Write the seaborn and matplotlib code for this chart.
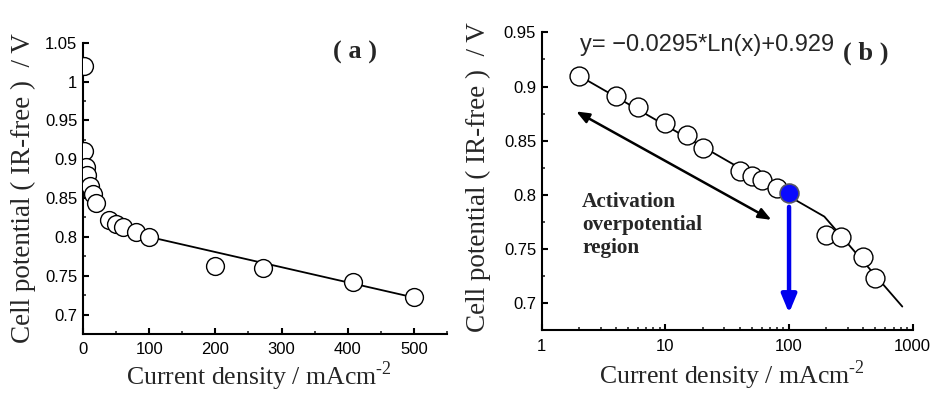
import matplotlib
matplotlib.use("Agg")
import matplotlib.pyplot as plt
import seaborn as sns
import pandas as pd
from matplotlib.ticker import MultipleLocator, FuncFormatter, LogLocator, NullFormatter, FixedLocator

# ---------------- data ----------------
current_a = [1, 2, 4, 6, 10, 15, 20, 40, 50, 60, 80, 100, 200, 272, 408, 500]
potential_a = [1.020, 0.910, 0.890, 0.880, 0.865, 0.855, 0.843, 0.822, 0.817,
               0.813, 0.806, 0.800, 0.762, 0.760, 0.742, 0.722]

current_b = [2, 4, 6, 10, 15, 20, 40, 50, 60, 80, 200, 265, 400, 500]
potential_b = [0.910, 0.891, 0.881, 0.866, 0.855, 0.843, 0.822, 0.817,
               0.814, 0.806, 0.763, 0.761, 0.743, 0.723]
highlight_x = [100]
highlight_y = [0.802]

fit_a_x = [100, 500]
fit_a_y = [0.800, 0.722]
fit_b_x = [2, 193, 824]
fit_b_y = [0.910, 0.780, 0.697]

xticks_a = [0, 100, 200, 300, 400, 500]
yticks_a = [0.7, 0.75, 0.8, 0.85, 0.9, 0.95, 1.0, 1.05]
xticks_b = [1, 10, 100, 1000]
yticks_b = [0.7, 0.75, 0.8, 0.85, 0.9, 0.95]

ylabel_txt = "Cell potential ( IR-free )  / V"
xlabel_txt = "Current density / mAcm$^{\\mathregular{\u2010}\\mathregular{2}}$"
equation_txt = "y= \u22120.0295*Ln(x)+0.929"

# ---------------- style ----------------
sns.set_theme(style="ticks")
plt.rcParams["font.family"] = ["Liberation Sans", "DejaVu Sans"]
plt.rcParams["mathtext.fontset"] = "custom"
plt.rcParams["mathtext.rm"] = "Liberation Serif"
plt.rcParams["axes.linewidth"] = 1.5
plt.rcParams["axes.edgecolor"] = "black"

fig = plt.figure(figsize=(9.3, 3.94), dpi=100)
ax_a = fig.add_axes([0.0892, 0.1523, 0.3914, 0.7394])
ax_b = fig.add_axes([0.5825, 0.1614, 0.3989, 0.7566])

serif = ["Liberation Serif", "DejaVu Serif"]
gfmt = FuncFormatter(lambda v, p: f"{v:g}")

for ax in (ax_a, ax_b):
    ax.set_facecolor("white")
    sns.despine(ax=ax)
    ax.tick_params(which="major", direction="in", length=4, width=1.5,
                   labelsize=12, colors="black")
    ax.tick_params(which="minor", direction="in", length=2.5, width=1.2)
    ax.tick_params(axis="y", pad=4)
    ax.tick_params(axis="x", pad=6)
    ax.yaxis.set_minor_locator(MultipleLocator(0.025))

# ---------------- panel (a) ----------------
df_fit_a = pd.DataFrame({"x": fit_a_x, "y": fit_a_y})
df_a = pd.DataFrame({"x": current_a, "y": potential_a})
sns.lineplot(data=df_fit_a, x="x", y="y", ax=ax_a, color="black", lw=1.3,
             zorder=2, sort=False)
sns.scatterplot(data=df_a, x="x", y="y", ax=ax_a, s=165, marker="o",
                facecolor="white", edgecolor="black", linewidth=1.0, zorder=3)
ax_a.set_xlim(0, 550)
ax_a.set_ylim(0.675, 1.05)
ax_a.xaxis.set_major_locator(FixedLocator(xticks_a))
ax_a.xaxis.set_minor_locator(MultipleLocator(50))
ax_a.yaxis.set_major_locator(FixedLocator(yticks_a))
ax_a.yaxis.set_major_formatter(gfmt)
ax_a.set_xlabel(xlabel_txt, family=serif, fontsize=18.5)
ax_a.set_ylabel(ylabel_txt, family=serif, fontsize=19.5)
ax_a.xaxis.set_label_coords(0.4835, -0.087)
ax_a.yaxis.set_label_coords(-0.129, 0.5)
ax_a.text(0.687, 0.968, "( a )", transform=ax_a.transAxes, family=serif,
          fontsize=19, fontweight="bold", ha="left", va="center")

# ---------------- panel (b) ----------------
df_fit_b = pd.DataFrame({"x": fit_b_x, "y": fit_b_y})
df_b = pd.DataFrame({"x": current_b, "y": potential_b})
df_h = pd.DataFrame({"x": highlight_x, "y": highlight_y})
ax_b.set_xscale("log")
sns.lineplot(data=df_fit_b, x="x", y="y", ax=ax_b, color="black", lw=1.3,
             zorder=2, sort=False)
sns.scatterplot(data=df_b, x="x", y="y", ax=ax_b, s=185, marker="o",
                facecolor="white", edgecolor="black", linewidth=1.0, zorder=3)
sns.scatterplot(data=df_h, x="x", y="y", ax=ax_b, s=185, marker="o",
                facecolor="#0a0aff", edgecolor="#555566", linewidth=1.2, zorder=4)
ax_b.set_xlim(1, 1000)
ax_b.set_ylim(0.675, 0.95)
ax_b.xaxis.set_major_locator(FixedLocator(xticks_b))
ax_b.xaxis.set_major_formatter(gfmt)
ax_b.xaxis.set_minor_locator(LogLocator(base=10, subs=range(2, 10)))
ax_b.xaxis.set_minor_formatter(NullFormatter())
ax_b.yaxis.set_major_locator(FixedLocator(yticks_b))
ax_b.yaxis.set_major_formatter(gfmt)
ax_b.set_xlabel(xlabel_txt, family=serif, fontsize=18.5)
ax_b.set_ylabel(ylabel_txt, family=serif, fontsize=19.5)
ax_b.xaxis.set_label_coords(0.512, -0.094)
ax_b.yaxis.set_label_coords(-0.1375, 0.515)

ax_b.annotate("", xy=(72, 0.777), xytext=(1.9, 0.877),
              arrowprops=dict(arrowstyle="<|-|>,head_length=0.55,head_width=0.22",
                              color="black", lw=1.8, mutation_scale=14,
                              shrinkA=0, shrinkB=0))
ax_b.annotate("", xy=(100, 0.691), xytext=(100, 0.789),
              arrowprops=dict(arrowstyle="-|>,head_length=0.6,head_width=0.25",
                              color="#0000ee", lw=3.2, mutation_scale=18,
                              shrinkA=0, shrinkB=0))
ax_b.text(0.1086, 0.464, "Activation\noverpotential\nregion",
          transform=ax_b.transAxes, family=serif, fontsize=15.3,
          fontweight="bold", ha="left", va="top", linespacing=1.2)
ax_b.text(0.103, 0.958, equation_txt, transform=ax_b.transAxes,
          fontsize=17, ha="left", va="center")
ax_b.text(0.811, 0.931, "( b )", transform=ax_b.transAxes, family=serif,
          fontsize=19, fontweight="bold", ha="left", va="center")

fig.savefig("out.png", dpi=100, facecolor="white")
